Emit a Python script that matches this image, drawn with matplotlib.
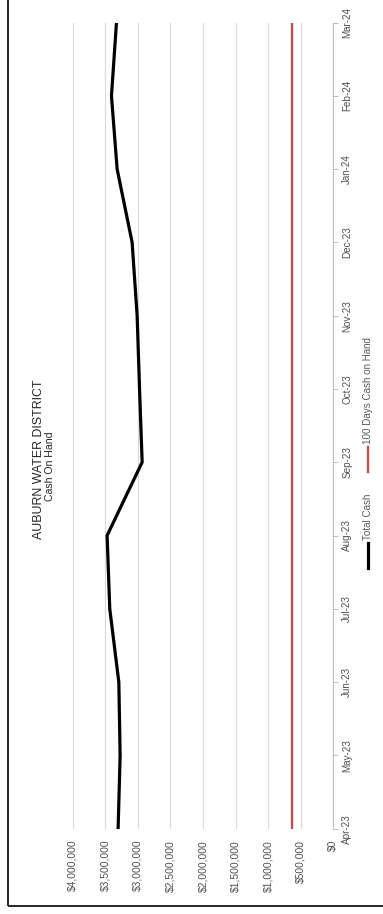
import numpy as np
import matplotlib
matplotlib.use('Agg')
import matplotlib.pyplot as plt
from matplotlib.lines import Line2D
from matplotlib.patches import Rectangle
from matplotlib.ticker import FuncFormatter

months = ['Apr-23', 'May-23', 'Jun-23', 'Jul-23', 'Aug-23', 'Sep-23',
          'Oct-23', 'Nov-23', 'Dec-23', 'Jan-24', 'Feb-24', 'Mar-24']
total_cash = [3303000, 3272000, 3292000, 3431000, 3472000, 2934000,
              2974000, 3011000, 3088000, 3318000, 3405000, 3328000]
days100 = [640000] * 12
value_ticks = [0, 500000, 1000000, 1500000, 2000000, 2500000, 3000000, 3500000, 4000000]

plt.rcParams['font.family'] = ['Liberation Sans', 'DejaVu Sans']

W, H = 383, 914
fig = plt.figure(figsize=(W / 100, H / 100), dpi=100)

# chart is shown rotated 90 deg: months run upward, dollars grow to the left
ax = fig.add_axes([72.7 / W, 1 - 828.7 / H, (333.3 - 72.7) / W, (828.7 - 22.5) / H])
pos = np.arange(len(months))
ax.plot(days100, pos, color='#c0504d', lw=1.7, solid_capstyle='butt', zorder=3)
ax.plot(total_cash, pos, color='black', lw=2.3, solid_joinstyle='miter', zorder=4)

ax.set_xlim(4000000, 0)
ax.set_ylim(0, len(months) - 1)
ax.set_xticks(value_ticks)
ax.xaxis.set_major_formatter(FuncFormatter(lambda v, p: '${:,.0f}'.format(v)))
ax.grid(axis='x', color='#d9d9d9', lw=0.8)
ax.set_axisbelow(True)
ax.tick_params(axis='x', length=0, pad=8, labelsize=7.5, labelcolor='#505050', labelrotation=90)

ax.yaxis.tick_right()
ax.set_yticks(pos)
ax.set_yticklabels(months)
ax.tick_params(axis='y', length=3.5, width=0.7, color='#bfbfbf', pad=3,
               labelsize=7.1, labelcolor='#505050', labelrotation=90)
for lbl in ax.get_yticklabels():
    lbl.set_va('center')

for s in ['left', 'top', 'bottom']:
    ax.spines[s].set_visible(False)
ax.spines['right'].set_color('#bfbfbf')
ax.spines['right'].set_linewidth(0.8)

# title (rotated)
fig.text(39 / W, 1 - 459 / H, 'AUBURN WATER DISTRICT', rotation=90, ha='center', va='center',
         fontsize=8.9, color='#262626')
fig.text(50 / W, 1 - 466 / H, 'Cash On Hand', rotation=90, ha='center', va='center',
         fontsize=7.6, color='#262626')

# legend (rotated)
lx = 368 / W
fig.add_artist(Line2D([lx, lx], [1 - 568 / H, 1 - 543 / H], color='black', lw=2.3,
                      transform=fig.transFigure))
fig.text(lx, 1 - 540 / H, 'Total Cash', rotation=90, ha='center', va='bottom',
         fontsize=7.1, color='#595959')
fig.add_artist(Line2D([lx, lx], [1 - 472 / H, 1 - 447 / H], color='#c0504d', lw=1.7,
                      transform=fig.transFigure))
fig.text(lx, 1 - 444 / H, '100 Days Cash on Hand', rotation=90, ha='center', va='bottom',
         fontsize=7.1, color='#595959')

# chart frame
fig.add_artist(Rectangle((7.5 / W, 1 - 906 / H), 1.0, 1.0, fill=False, ec='#262626', lw=1.4,
                         transform=fig.transFigure))

fig.savefig('out.png', dpi=100, facecolor='white')
